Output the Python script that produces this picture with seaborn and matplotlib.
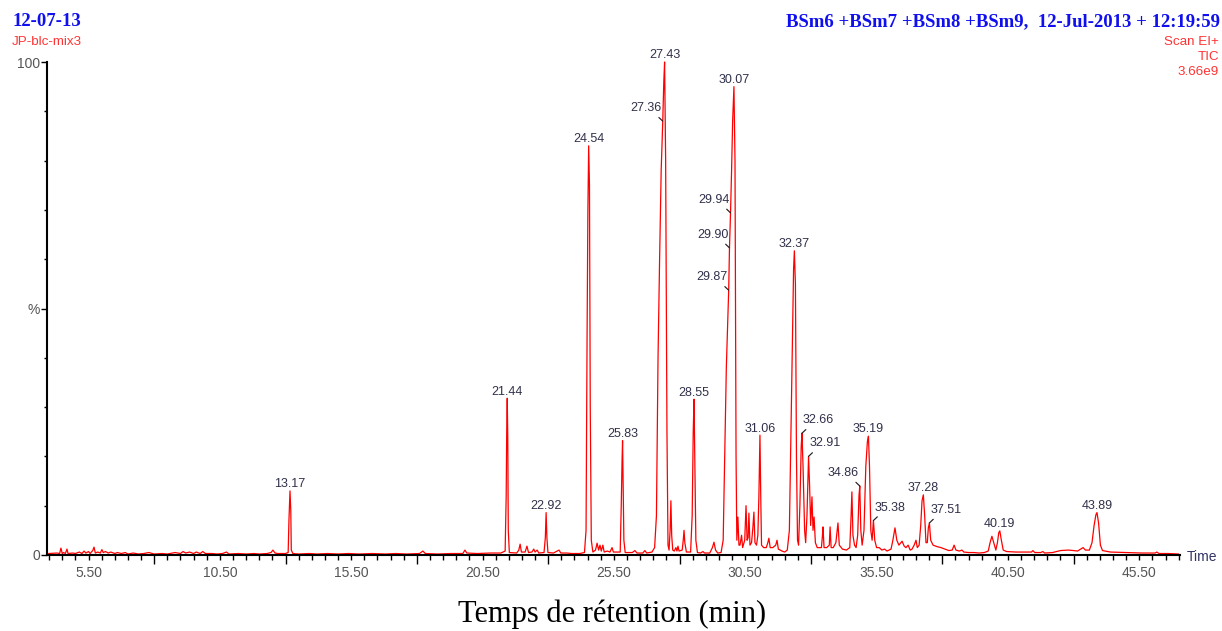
import matplotlib
matplotlib.use("Agg")
import matplotlib.pyplot as plt
from matplotlib.ticker import FixedLocator, FuncFormatter
import numpy as np
import pandas as pd
import seaborn as sns

# ---------------- data ----------------
# retention time (min) of each point of the TIC trace
rt_min = [
    3.98, 4.30, 4.40, 4.45, 4.50, 4.55, 4.62, 4.68, 4.72, 4.90, 5.00, 5.15, 5.25, 5.33, 5.40,
    5.50, 5.56, 5.66, 5.71, 5.76, 5.85, 5.95, 6.01, 6.06, 6.15, 6.25, 6.35, 6.50, 6.60, 6.75,
    6.90, 7.00, 7.20, 7.40, 7.60, 7.80, 8.00, 8.30, 8.50, 8.80, 9.00, 9.10, 9.20, 9.35, 9.50,
    9.60, 9.75, 9.85, 9.95, 10.20, 10.40, 10.60, 10.75, 10.85, 11.20, 11.50, 11.80, 12.00, 12.30, 12.45,
    12.52, 12.60, 12.70, 13.00, 13.10, 13.13, 13.17, 13.20, 13.22, 13.28, 13.50, 13.90, 14.20, 14.60, 15.00,
    15.40, 15.80, 16.30, 16.80, 17.20, 17.60, 18.10, 18.23, 18.32, 18.80, 19.30, 19.75, 19.83, 19.90, 20.30,
    20.80, 21.20, 21.36, 21.40, 21.42, 21.44, 21.46, 21.48, 21.52, 21.80, 21.88, 21.93, 21.98, 22.12, 22.19,
    22.25, 22.38, 22.45, 22.50, 22.58, 22.64, 22.84, 22.89, 22.92, 22.95, 22.99, 23.20, 23.41, 23.48, 23.70,
    23.90, 24.20, 24.38, 24.44, 24.48, 24.51, 24.54, 24.57, 24.60, 24.64, 24.70, 24.80, 24.86, 24.92, 24.97,
    25.02, 25.08, 25.13, 25.25, 25.35, 25.43, 25.48, 25.74, 25.78, 25.81, 25.83, 25.85, 25.88, 25.93, 26.20,
    26.30, 26.38, 26.60, 26.68, 26.75, 26.95, 27.05, 27.12, 27.18, 27.24, 27.30, 27.36, 27.40, 27.43, 27.47,
    27.52, 27.56, 27.60, 27.64, 27.67, 27.70, 27.74, 27.80, 27.86, 27.90, 27.94, 27.98, 28.10, 28.14, 28.17,
    28.20, 28.26, 28.42, 28.48, 28.52, 28.55, 28.58, 28.62, 28.68, 28.80, 28.89, 28.95, 29.15, 29.25, 29.31,
    29.37, 29.45, 29.58, 29.66, 29.72, 29.78, 29.84, 29.87, 29.90, 29.94, 29.98, 30.02, 30.07, 30.11, 30.15,
    30.18, 30.22, 30.26, 30.30, 30.36, 30.40, 30.48, 30.53, 30.57, 30.61, 30.64, 30.68, 30.74, 30.79, 30.83,
    30.87, 30.93, 30.98, 31.02, 31.06, 31.09, 31.12, 31.20, 31.30, 31.36, 31.40, 31.45, 31.55, 31.66, 31.71,
    31.76, 31.90, 32.00, 32.10, 32.18, 32.24, 32.30, 32.34, 32.37, 32.41, 32.45, 32.49, 32.53, 32.58, 32.63,
    32.66, 32.70, 32.76, 32.80, 32.85, 32.91, 32.95, 32.99, 33.04, 33.08, 33.12, 33.17, 33.24, 33.30, 33.40,
    33.44, 33.46, 33.50, 33.60, 33.70, 33.73, 33.77, 33.85, 33.95, 34.03, 34.08, 34.20, 34.35, 34.48, 34.53,
    34.56, 34.60, 34.66, 34.72, 34.78, 34.83, 34.86, 34.90, 34.95, 35.02, 35.09, 35.15, 35.19, 35.23, 35.28,
    35.33, 35.38, 35.43, 35.50, 35.60, 35.70, 35.80, 35.90, 36.05, 36.12, 36.20, 36.27, 36.35, 36.47, 36.55,
    36.62, 36.70, 36.78, 36.85, 36.93, 37.00, 37.05, 37.12, 37.18, 37.23, 37.28, 37.33, 37.38, 37.43, 37.47,
    37.51, 37.56, 37.65, 37.80, 37.95, 38.10, 38.25, 38.38, 38.45, 38.52, 38.65, 38.75, 38.82, 39.00, 39.20,
    39.40, 39.60, 39.75, 39.82, 39.89, 39.96, 40.04, 40.10, 40.15, 40.19, 40.25, 40.32, 40.45, 40.80, 41.20,
    41.40, 41.45, 41.52, 41.75, 41.83, 41.90, 42.20, 42.50, 42.80, 43.00, 43.15, 43.30, 43.36, 43.45, 43.60,
    43.70, 43.78, 43.85, 43.89, 43.95, 44.02, 44.10, 44.40, 45.00, 45.60, 46.10, 46.17, 46.25, 46.60, 47.00,
]
# relative intensity (%) of the same points
intensity_pct = [
    0.3, 0.4, 0.3, 1.4, 0.3, 0.5, 0.3, 1.2, 0.3, 0.4, 0.3, 0.6, 0.3, 0.8, 0.4,
    0.7, 0.3, 0.9, 1.6, 0.4, 0.6, 0.4, 1.1, 0.5, 0.7, 0.4, 0.6, 0.3, 0.5, 0.3,
    0.5, 0.2, 0.4, 0.2, 0.3, 0.5, 0.2, 0.3, 0.2, 0.5, 0.3, 0.7, 0.4, 0.6, 0.3,
    0.6, 0.3, 0.7, 0.3, 0.3, 0.2, 0.3, 0.6, 0.2, 0.3, 0.2, 0.3, 0.2, 0.3, 0.5,
    1.0, 0.4, 0.3, 0.3, 0.5, 7.0, 13.0, 9.0, 1.0, 0.3, 0.2, 0.3, 0.2, 0.3, 0.2,
    0.3, 0.2, 0.3, 0.2, 0.3, 0.2, 0.3, 0.8, 0.3, 0.2, 0.3, 0.3, 1.0, 0.4, 0.3,
    0.4, 0.4, 0.8, 12.0, 25.0, 31.8, 24.0, 5.0, 0.5, 0.4, 1.0, 2.2, 0.6, 0.6, 1.8,
    0.5, 0.6, 1.2, 0.6, 1.0, 0.4, 0.5, 3.5, 8.6, 3.5, 0.5, 0.4, 1.0, 0.4, 0.4,
    0.3, 0.3, 0.5, 5.0, 45.0, 70.0, 83.0, 75.0, 30.0, 3.0, 0.6, 1.0, 2.4, 1.0, 2.0,
    0.8, 2.0, 0.6, 0.8, 0.6, 1.5, 0.6, 0.6, 10.0, 19.0, 23.2, 15.0, 3.0, 0.5, 0.5,
    0.9, 0.4, 0.4, 0.9, 0.4, 0.6, 1.5, 8.0, 40.0, 60.0, 78.0, 88.0, 96.0, 100.0, 80.0,
    25.0, 2.0, 1.0, 5.0, 11.0, 4.0, 1.0, 0.8, 1.5, 0.8, 1.8, 0.8, 1.0, 3.0, 5.0,
    2.5, 0.6, 0.6, 8.0, 25.0, 31.6, 20.0, 3.0, 0.5, 0.4, 0.7, 0.4, 0.4, 1.5, 2.6,
    1.0, 0.4, 0.5, 3.0, 20.0, 38.0, 48.0, 53.7, 62.3, 69.4, 78.0, 88.0, 95.0, 80.0, 20.0,
    3.0, 7.7, 2.0, 2.0, 4.0, 1.5, 3.0, 10.0, 3.0, 3.5, 8.5, 2.0, 2.5, 5.5, 8.7,
    2.5, 2.0, 4.0, 12.0, 24.3, 12.0, 2.0, 1.5, 1.5, 2.5, 3.4, 1.5, 1.5, 2.0, 3.0,
    1.2, 0.8, 0.6, 1.0, 5.0, 25.0, 45.0, 58.0, 61.7, 55.0, 20.0, 3.0, 2.0, 10.0, 22.0,
    24.7, 18.0, 5.0, 2.5, 8.0, 20.0, 14.0, 6.0, 11.8, 5.0, 7.7, 2.5, 1.5, 1.5, 1.5,
    4.0, 5.7, 1.5, 1.5, 2.0, 5.7, 1.5, 1.5, 2.5, 6.5, 2.0, 1.2, 1.0, 1.5, 8.0,
    12.8, 4.0, 2.0, 1.5, 4.0, 12.0, 14.0, 5.0, 2.0, 5.0, 18.0, 23.0, 24.1, 18.0, 5.0,
    3.0, 7.0, 3.0, 1.5, 1.5, 1.0, 1.2, 0.8, 1.2, 3.0, 5.5, 3.0, 2.0, 2.8, 1.8,
    1.5, 2.0, 1.0, 1.2, 2.0, 3.0, 1.5, 2.0, 6.0, 11.0, 12.2, 8.0, 2.5, 2.5, 5.5,
    6.5, 3.0, 2.0, 1.7, 1.5, 1.2, 0.9, 1.0, 2.0, 1.0, 0.8, 1.0, 0.6, 0.5, 0.5,
    0.4, 0.5, 0.8, 2.5, 3.8, 2.5, 1.0, 2.5, 4.5, 4.9, 3.0, 1.0, 0.7, 0.6, 0.6,
    0.6, 0.9, 0.5, 0.5, 0.7, 0.4, 0.5, 0.9, 1.0, 0.9, 0.8, 1.3, 1.5, 1.0, 1.0,
    2.5, 6.0, 8.2, 8.6, 6.5, 2.0, 0.9, 0.6, 0.5, 0.4, 0.4, 0.6, 0.3, 0.3, 0.2,
]

# annotated peaks (retention time, intensity % at the label point)
peak_rt = [13.17, 21.44, 22.92, 24.54, 25.83, 27.36, 27.43, 28.55, 29.87, 29.90,
           29.94, 30.07, 31.06, 32.37, 32.66, 32.91, 34.86, 35.19, 35.38, 37.28,
           37.51, 40.19, 43.89]
peak_pct = [13.0, 31.8, 8.6, 83.0, 23.2, 88.0, 100.0, 31.6, 53.7, 62.3,
            69.4, 95.0, 24.3, 61.7, 24.7, 20.0, 14.0, 24.1, 7.0, 12.2,
            6.5, 4.9, 8.6]
# which labels sit beside the peak with a leader line: -1 left, +1 right, 0 on top
leader_side = {27.36: -1, 29.87: -1, 29.90: -1, 29.94: -1, 32.66: 1,
               32.91: 1, 34.86: -1, 35.38: 1, 37.51: 1}

x_tick_labels = ["5.50", "10.50", "15.50", "20.50", "25.50", "30.50", "35.50", "40.50", "45.50"]

header_left = "12-07-13"
sample_name = "JP-blc-mix3"
header_right = "BSm6 +BSm7 +BSm8 +BSm9,  12-Jul-2013 + 12:19:59"
scan_info = ["Scan EI+", "TIC", "3.66e9"]
x_title = "Temps de rétention (min)"

# ---------------- figure ----------------
sns.set_style("white")
plt.rcParams["font.family"] = ["Liberation Sans", "DejaVu Sans"]

W, H = 1222, 631
fig = plt.figure(figsize=(W / 100, H / 100), dpi=100)
ax = fig.add_axes([47 / W, (H - 555) / H, (1180 - 47) / W, (555 - 62) / H])

df = pd.DataFrame({"rt": rt_min, "pct": intensity_pct})
sns.lineplot(data=df, x="rt", y="pct", ax=ax, color="#ff0000", lw=0.9,
             estimator=None, sort=False, legend=False)
for ln in ax.get_lines():
    ln.set_clip_on(False)

ax.set_xlim(3.92, 47.05)
ax.set_ylim(0, 100)
ax.set_xlabel("")
ax.set_ylabel("")

for s in ["top", "right"]:
    ax.spines[s].set_visible(False)
for s in ["left", "bottom"]:
    ax.spines[s].set_color("black")
    ax.spines[s].set_linewidth(1.5)

# x ticks: long unlabeled ticks every 5 min, short ticks every 0.5 min (some labeled)
label_vals = [float(v) for v in x_tick_labels]
long_ticks = [8.0 + 5 * k for k in range(8)]
short_ticks = [t for t in np.arange(4.0, 47.01, 0.5) if all(abs(t - L) > 1e-6 for L in long_ticks)]
ax.xaxis.set_major_locator(FixedLocator(long_ticks))
ax.xaxis.set_major_formatter(FuncFormatter(lambda v, p: ""))
ax.xaxis.set_minor_locator(FixedLocator(short_ticks))


def _minor_fmt(v, p):
    for lv, lt in zip(label_vals, x_tick_labels):
        if abs(v - lv) < 1e-6:
            return lt
    return ""


ax.xaxis.set_minor_formatter(FuncFormatter(_minor_fmt))
ax.tick_params(axis="x", which="major", direction="out", length=6.5, width=1.0,
               color="black", bottom=True)
ax.tick_params(axis="x", which="minor", direction="out", length=3.6, width=1.0,
               color="black", bottom=True, labelsize=10, labelcolor="#555555", pad=4)

# y ticks
ax.yaxis.set_major_locator(FixedLocator([0, 50, 100]))
ax.yaxis.set_major_formatter(FuncFormatter(lambda v, p: {0: "0", 50: "%", 100: "100"}[int(round(v))]))
ax.yaxis.set_minor_locator(FixedLocator([10, 20, 30, 40, 60, 70, 80, 90]))
ax.tick_params(axis="y", which="major", direction="out", length=4.0, width=1.0,
               color="black", left=True, labelsize=10, labelcolor="#555555", pad=1)
ax.tick_params(axis="y", which="minor", direction="out", length=2.3, width=1.0,
               color="black", left=True)

# peak labels
lab_color = "#30304a"
for rt, pct in zip(peak_rt, peak_pct):
    side = leader_side.get(rt, 0)
    txt = f"{rt:.2f}"
    if side == 0:
        ax.annotate(txt, xy=(rt, pct), xytext=(0, 0.5), textcoords="offset points",
                    ha="center", va="bottom", fontsize=9, color=lab_color,
                    annotation_clip=False)
    else:
        ax.annotate(txt, xy=(rt, pct), xytext=(side * 12.0, 5.0), textcoords="offset points",
                    ha="center", va="bottom", fontsize=9, color=lab_color,
                    annotation_clip=False,
                    arrowprops=dict(arrowstyle="-", color="#202020", lw=0.85,
                                    shrinkA=0, shrinkB=0,
                                    relpos=(0.8 if side < 0 else 0.2, 0.0)))

# "Time" at the end of the x axis
fig.text(1187 / W, 1 - 557 / H, "Time", ha="left", va="center", fontsize=10, color="#333366")

# headers
serif = ["Liberation Serif", "DejaVu Serif"]
fig.text(12 / W, 1 - 26 / H, header_left, ha="left", va="baseline", fontsize=13.5,
         fontweight="bold", family=serif, color="#1010ee")
fig.text(1220 / W, 1 - 26 / H, header_right, ha="right", va="baseline", fontsize=13.5,
         fontweight="bold", family=serif, color="#1010ee")
fig.text(12 / W, 1 - 45 / H, sample_name, ha="left", va="baseline", fontsize=9.6,
         color="#ff3333")
for i, s in enumerate(scan_info):
    fig.text(1219 / W, 1 - (45 + 15 * i) / H, s, ha="right", va="baseline", fontsize=9.6,
             color="#ff3333")

fig.text(612 / W, 1 - 622 / H, x_title, ha="center", va="baseline", fontsize=22,
         family=serif, color="black")

fig.savefig("out.png", dpi=100)
